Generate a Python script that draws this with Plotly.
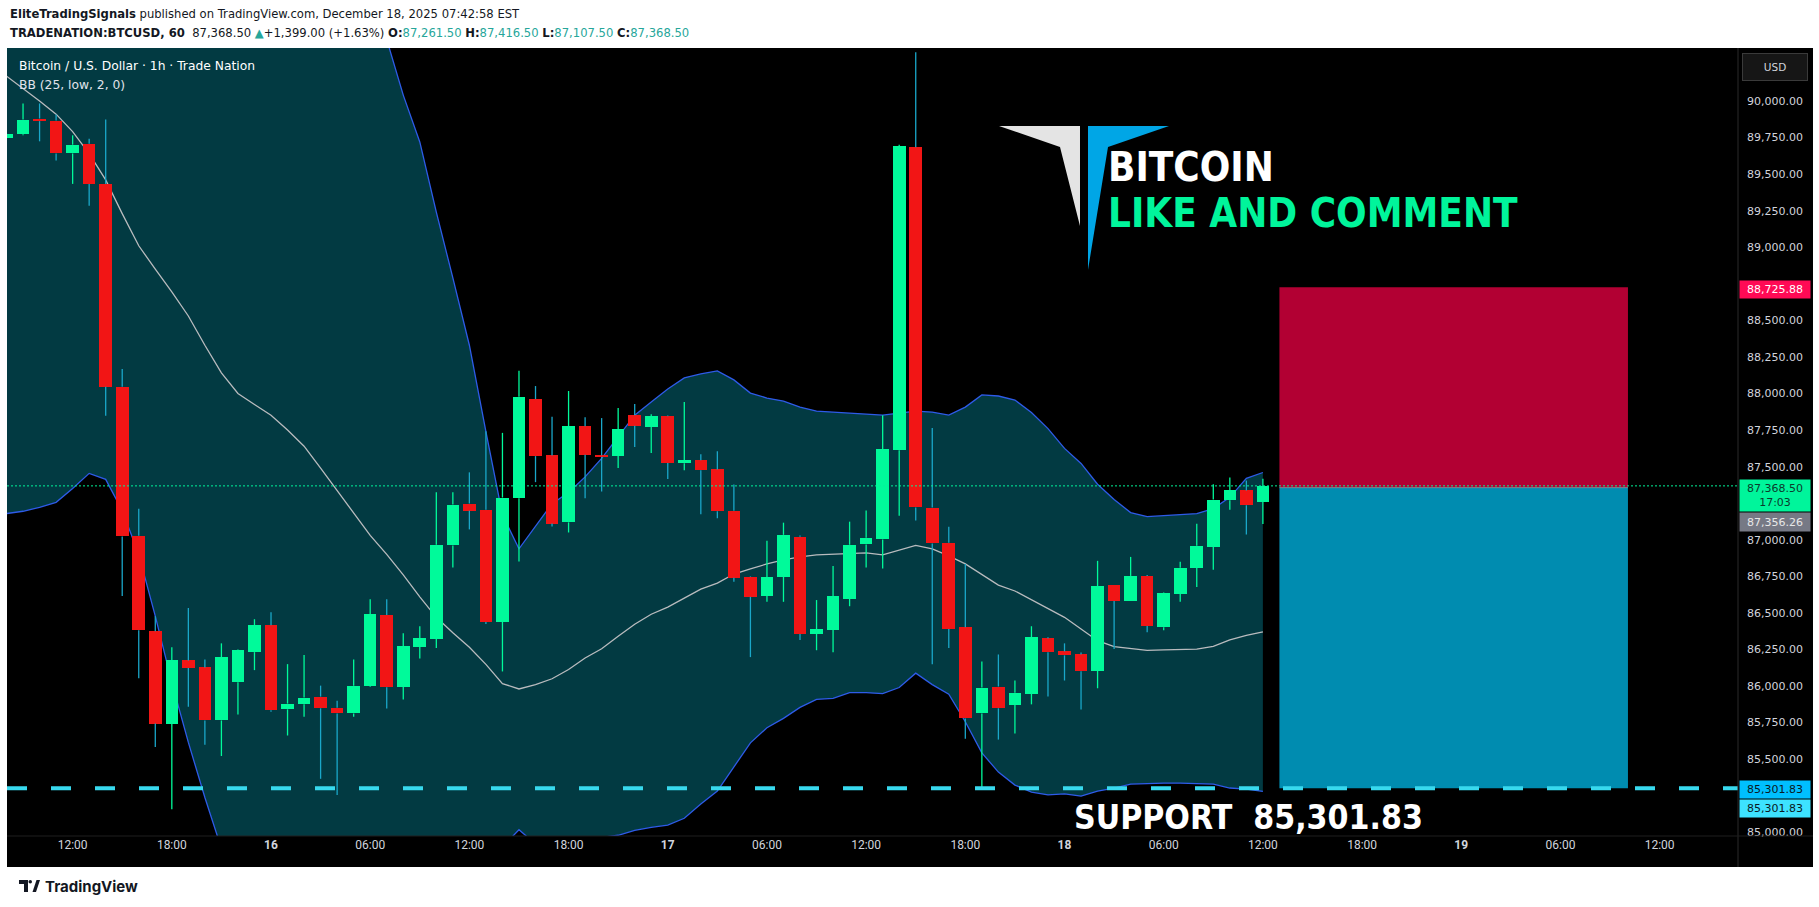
import plotly.graph_objects as go
import pandas as pd

# ---------------- data ----------------
start = pd.Timestamp('2025-12-15 08:00')
times = pd.date_range(start, periods=77, freq='h')

opens = [89750, 89772, 89880, 89866, 89641, 89708, 89433, 88047, 87027, 86375,
         85744, 86175, 86127, 85765, 86026, 86232, 86416, 85841, 85875, 85928,
         85852, 85813, 86003, 86485, 85997, 86267, 86322, 86961, 87248, 87206,
         86438, 87284, 87962, 87577, 87119, 87777, 87577, 87572, 87852, 87772,
         87845, 87524, 87543, 87481, 87199, 86746, 86617, 86748, 87020, 86356,
         86384, 86597, 86968, 87002, 87612, 89683, 87220, 86979, 86402, 85813,
         85997, 85873, 85948, 86326, 86237, 86216, 86106, 86691, 86581, 86753,
         86402, 86631, 86810, 86954, 87270, 87337, 87261.5]
highs = [89780, 89983, 89983, 89907, 89765, 89742, 89873, 88168, 87213, 86478,
         86265, 86533, 86182, 86292, 86250, 86457, 86505, 86150, 86212, 86003,
         85900, 86182, 86594, 86594, 86361, 86409, 87325, 87325, 87461, 87742,
         87731, 88155, 88051, 87841, 88017, 87838, 87832, 87901, 87928, 87859,
         87850, 87942, 87584, 87605, 87378, 86750, 86993, 87117, 87029, 86588,
         86821, 87124, 87201, 87852, 89700, 90333, 87764, 87089, 86835, 86168,
         86216, 86038, 86409, 86333, 86292, 86230, 86856, 86691, 86883, 86760,
         86640, 86849, 87110, 87379, 87426, 87405, 87416.5]
lows = [89745, 89765, 89724, 89593, 89433, 89284, 87848, 86615, 86054, 85584,
        85158, 85859, 85598, 85522, 85806, 86109, 85825, 85662, 85790, 85366,
        85256, 85790, 85995, 85847, 85909, 86189, 86260, 86810, 87071, 86425,
        86100, 86851, 87394, 87091, 87050, 87284, 87330, 87490, 87635, 87593,
        87415, 87476, 87174, 87147, 86713, 86198, 86576, 86576, 86315, 86245,
        86232, 86546, 86810, 86803, 87165, 87131, 86149, 86260, 85639, 85298,
        85634, 85676, 85875, 85928, 86038, 85840, 85985, 86253, 86581, 86368,
        86381, 86576, 86677, 86796, 87206, 87036, 87107.5]
closes = [89775, 89873, 89862, 89641, 89701, 89433, 88047, 87023, 86381, 85744,
          86175, 86123, 85765, 86196, 86244, 86416, 85834, 85880, 85921, 85848,
          85813, 86003, 86491, 85992, 86271, 86326, 86966, 87241, 87199, 86438,
          87289, 87978, 87572, 87111, 87777, 87581, 87566, 87756, 87779, 87845,
          87525, 87543, 87476, 87195, 86741, 86610, 86746, 87034, 86356, 86388,
          86615, 86966, 87014, 87619, 89689, 87221, 86975, 86390, 85779, 85990,
          85848, 85955, 86333, 86232, 86210, 86102, 86684, 86581, 86753, 86411,
          86636, 86808, 86959, 87275, 87337, 87236, 87368.5]

# Bollinger Bands (25, low, 2, 0)
bb_upper = [93200, 93050, 92900, 92750, 92650, 92550, 92500, 92600, 92700, 92800,
            92750, 92650, 92500, 92300, 92050, 91800, 91550, 91300, 91100, 91000,
            90900, 90850, 90800, 90420, 90040, 89720, 89240, 88790, 88330, 87740,
            87170, 86938, 87096, 87247, 87323, 87430, 87557, 87701, 87852, 87942,
            88031, 88107, 88134, 88155, 88093, 88003, 87969, 87948, 87907, 87880,
            87873, 87866, 87860, 87852, 87866, 87880, 87873, 87852, 87907, 87990,
            87983, 87955, 87870, 87760, 87625, 87522, 87380, 87275, 87186, 87158,
            87165, 87172, 87179, 87213, 87290, 87420, 87460]
bb_basis = [90170, 90086, 90000, 89910, 89790, 89640, 89460, 89230, 89010, 88850,
            88695, 88530, 88330, 88141, 88000, 87925, 87852, 87750, 87640, 87490,
            87337, 87190, 87030, 86900, 86760, 86610, 86470, 86365, 86265, 86148,
            86017, 85980, 86010, 86050, 86113, 86192, 86255, 86340, 86423, 86491,
            86540, 86601, 86663, 86704, 86766, 86801, 86835, 86863, 86883, 86897,
            86900, 86904, 86911, 86897, 86931, 86962, 86938, 86890, 86835, 86760,
            86690, 86650, 86590, 86526, 86470, 86390, 86310, 86270, 86258, 86244,
            86248, 86251, 86253, 86272, 86315, 86347, 86370]
bb_lower = [87179, 87195, 87222, 87256, 87350, 87454, 87413, 87200, 86900, 86478,
            86025, 85615, 85238, 84890, 84700, 84550, 84450, 84400, 84350, 84300,
            84300, 84350, 84400, 84450, 84500, 84600, 84700, 84780, 84850, 84920,
            84900, 85018, 84920, 84940, 84958, 84966, 84966, 84980, 85014, 85034,
            85050, 85096, 85194, 85282, 85447, 85612, 85715, 85779, 85854, 85909,
            85916, 85955, 85955, 85948, 85990, 86088, 86010, 85944, 85756, 85543,
            85412, 85323, 85275, 85256, 85263, 85247, 85282, 85302, 85330, 85335,
            85337, 85337, 85335, 85330, 85303, 85296, 85280]

target_price = 88725.88
entry_price = 87356.26
support_price = 85301.83
last_price = closes[-1]
change_abs = 1399.00
change_pct = 1.63
countdown = "17:03"
pos_start = pd.Timestamp('2025-12-18 13:00')
pos_end = pd.Timestamp('2025-12-19 10:05')

xtick_vals = pd.date_range('2025-12-15 12:00', '2025-12-19 12:00', freq='6h')
xtick_text = ['12:00', '18:00', '<b>16</b>', '06:00', '12:00', '18:00', '<b>17</b>', '06:00',
              '12:00', '18:00', '<b>18</b>', '06:00', '12:00', '18:00', '<b>19</b>', '06:00', '12:00']
ytick_vals = [85000, 85500, 85750, 86000, 86250, 86500, 86750, 87000, 87500, 87750,
              88000, 88250, 88500, 89000, 89250, 89500, 89750, 90000]

# ---------------- layout geometry ----------------
W, H = 1819, 907
PL, PR, PT, PB = 7, 1738, 48, 836
x_range = [start + pd.Timedelta(hours=0.03), start + pd.Timedelta(hours=104.74)]
y_range = [84975, 90362]


def px_x(px):
    return (px - PL) / (PR - PL)


def px_y(py):
    return (PB - py) / (PB - PT)


UP = '#00FA9A'
DOWN = '#F21515'
UP_WICK = '#00FA9A'
DOWN_WICK = '#1AA7C9'
BAND = '#2E5BE8'
FILL = '#023A42'
TXT_FONT = 'DejaVu Sans'
BIG_FONT = 'DejaVu Sans Condensed'

fig = go.Figure()

# Bollinger bands on main axes (below candles)
fig.add_trace(go.Scatter(x=times, y=bb_upper, mode='lines', line=dict(color=BAND, width=1.3),
                         hoverinfo='skip'))
fig.add_trace(go.Scatter(x=times, y=bb_lower, mode='lines', line=dict(color=BAND, width=1.3),
                         fill='tonexty', fillcolor=FILL, hoverinfo='skip'))
fig.add_trace(go.Scatter(x=times, y=bb_basis, mode='lines', line=dict(color='#B9BBBE', width=1.3),
                         hoverinfo='skip'))

# candles on overlay axes
wx_up, wy_up, wx_dn, wy_dn = [], [], [], []
for t, o, h, l, c in zip(times, opens, highs, lows, closes):
    top, bot = max(o, c), min(o, c)
    seg_x = [t, t, None, t, t, None]
    seg_y = [h, top, None, bot, l, None]
    if c >= o:
        wx_up += seg_x
        wy_up += seg_y
    else:
        wx_dn += seg_x
        wy_dn += seg_y

fig.add_trace(go.Bar(x=times, y=[c - o for o, c in zip(opens, closes)], base=opens,
                     marker=dict(color=[UP if c >= o else DOWN for o, c in zip(opens, closes)],
                                 line=dict(width=0)),
                     width=0.762 * 3600 * 1000, xaxis='x2', yaxis='y2', hoverinfo='skip'))
fig.add_trace(go.Scatter(x=wx_up, y=wy_up, mode='lines', line=dict(color=UP_WICK, width=1.3),
                         xaxis='x2', yaxis='y2', hoverinfo='skip', connectgaps=False))
fig.add_trace(go.Scatter(x=wx_dn, y=wy_dn, mode='lines', line=dict(color=DOWN_WICK, width=1.3),
                         xaxis='x2', yaxis='y2', hoverinfo='skip', connectgaps=False))

shapes = []
# black widget background
shapes.append(dict(type='rect', xref='paper', yref='paper', x0=px_x(7), x1=px_x(1813),
                   y0=px_y(867), y1=px_y(48), fillcolor='black', line=dict(width=0), layer='below'))
# position tool
shapes.append(dict(type='rect', xref='x', yref='y', x0=pos_start, x1=pos_end, y0=entry_price,
                   y1=target_price, fillcolor='#B20033', line=dict(width=0), layer='below'))
shapes.append(dict(type='rect', xref='x', yref='y', x0=pos_start, x1=pos_end, y0=support_price,
                   y1=entry_price, fillcolor='#008CB0', line=dict(width=0), layer='below'))
shapes.append(dict(type='line', xref='x', yref='y', x0=pos_start, x1=pos_end, y0=entry_price,
                   y1=entry_price, line=dict(color='#7E8A96', width=1), layer='below'))
# current price dotted line
shapes.append(dict(type='line', xref='paper', yref='y', x0=0, x1=1, y0=last_price, y1=last_price,
                   line=dict(color='#00F59B', width=1, dash='2px,2px')))
# support dashed line
shapes.append(dict(type='line', xref='paper', yref='y', x0=0, x1=1, y0=support_price, y1=support_price,
                   line=dict(color='#38D9EE', width=4, dash='20px,24px')))
# separators
shapes.append(dict(type='line', xref='paper', yref='paper', x0=1, x1=1, y0=px_y(867), y1=1,
                   line=dict(color='#2A2A2A', width=1)))
shapes.append(dict(type='line', xref='paper', yref='paper', x0=0, x1=px_x(1813), y0=0, y1=0,
                   line=dict(color='#1E1E1E', width=1)))


def poly(points):
    d = 'M ' + ' L '.join(f'{px_x(a):.5f},{px_y(b):.5f}' for a, b in points) + ' Z'
    return d


# logo wedges
shapes.append(dict(type='path', xref='paper', yref='paper',
                   path=poly([(999, 126), (1080, 126), (1080, 226), (1060, 147)]),
                   fillcolor='#E4E4E4', line=dict(width=0)))
shapes.append(dict(type='path', xref='paper', yref='paper',
                   path=poly([(1088, 126), (1169, 126), (1108, 147), (1088, 270)]),
                   fillcolor='#00A6E6', line=dict(width=0)))
# TradingView footer icon
shapes.append(dict(type='path', xref='paper', yref='paper',
                   path=poly([(19, 880), (28, 880), (28, 892), (24, 892), (24, 884), (19, 884)]),
                   fillcolor='#131722', line=dict(width=0)))
shapes.append(dict(type='circle', xref='paper', yref='paper', x0=px_x(28.5), x1=px_x(32),
                   y0=px_y(883.5), y1=px_y(880), fillcolor='#131722', line=dict(width=0)))
shapes.append(dict(type='path', xref='paper', yref='paper',
                   path=poly([(32.5, 892), (36.5, 880), (40, 880), (36, 892)]),
                   fillcolor='#131722', line=dict(width=0)))

teal = '#26A69A'
ann = []
ann.append(dict(xref='paper', yref='paper', x=px_x(8), y=px_y(14), xanchor='left', yanchor='middle',
                showarrow=False, font=dict(family=TXT_FONT, size=11.6, color='#131722'),
                text='<b>EliteTradingSignals</b> published on TradingView.com, December 18, 2025 07:42:58 EST'))
line2 = (f"<b>TRADENATION:BTCUSD, 60</b>  {last_price:,.2f} <span style='color:{teal}'>▲</span>"
         f"+{change_abs:,.2f} (+{change_pct:.2f}%) "
         f"<b>O:</b><span style='color:{teal}'>{opens[-1]:,.2f}</span> "
         f"<b>H:</b><span style='color:{teal}'>{highs[-1]:,.2f}</span> "
         f"<b>L:</b><span style='color:{teal}'>{lows[-1]:,.2f}</span> "
         f"<b>C:</b><span style='color:{teal}'>{closes[-1]:,.2f}</span>")
ann.append(dict(xref='paper', yref='paper', x=px_x(8), y=px_y(33), xanchor='left', yanchor='middle',
                showarrow=False, font=dict(family=TXT_FONT, size=11.6, color='#131722'), text=line2))
ann.append(dict(xref='paper', yref='paper', x=px_x(17), y=px_y(66), xanchor='left', yanchor='middle',
                showarrow=False, font=dict(family=TXT_FONT, size=12.3, color='#FFFFFF'),
                text='Bitcoin / U.S. Dollar · 1h · Trade Nation'))
ann.append(dict(xref='paper', yref='paper', x=px_x(17), y=px_y(85), xanchor='left', yanchor='middle',
                showarrow=False, font=dict(family=TXT_FONT, size=12.3, color='#E0E3EB'),
                text='BB (25, low, 2, 0)'))
# big texts
ann.append(dict(xref='paper', yref='paper', x=px_x(1106), y=px_y(167), xanchor='left', yanchor='middle',
                showarrow=False, font=dict(family=BIG_FONT, size=40, color='#FFFFFF', weight='bold'),
                text='BITCOIN'))
ann.append(dict(xref='paper', yref='paper', x=px_x(1106), y=px_y(213), xanchor='left', yanchor='middle',
                showarrow=False, font=dict(family=BIG_FONT, size=40, color='#00F59B', weight='bold'),
                text='LIKE AND COMMENT'))
ann.append(dict(xref='paper', yref='paper', x=px_x(1072), y=px_y(817), xanchor='left', yanchor='middle',
                showarrow=False, font=dict(family=BIG_FONT, size=33.5, color='#FFFFFF', weight='bold'),
                text=f'SUPPORT\u00a0\u00a0{support_price:,.2f}'))
# footer
ann.append(dict(xref='paper', yref='paper', x=px_x(43), y=px_y(886), xanchor='left', yanchor='middle',
                showarrow=False, font=dict(family='Inter', size=15, color='#131722', weight=700),
                text='TradingView'))
# price-axis labels
ann.append(dict(xref='paper', yref='paper', x=px_x(1774.5), y=px_y(67), xanchor='center', yanchor='middle',
                showarrow=False, font=dict(family=TXT_FONT, size=10.5, color='#D1D4DC'),
                text='USD', bgcolor='#161616', bordercolor='#3A3A3A', borderwidth=1, width=62, height=24))


def price_label(price, text, bg, fg, shift, h=15):
    return dict(xref='paper', yref='y', x=1.0, y=price, xanchor='left', yanchor='middle', yshift=shift,
                xshift=1, showarrow=False, font=dict(family=TXT_FONT, size=11, color=fg), text=text,
                bgcolor=bg, width=68, height=h, borderpad=1)


ann.append(price_label(target_price, f'{target_price:,.2f}', '#FF0A55', '#FFFFFF', -2))
ann.append(price_label(last_price, f'{last_price:,.2f}<br>{countdown}', '#00F59B', '#0B3B2C', -10, 29))
ann.append(price_label(entry_price, f'{entry_price:,.2f}', '#767985', '#E8E8E8', -34, 16))
ann.append(price_label(support_price, f'{support_price:,.2f}', '#00BFFF', '#0A1A24', -1, 15))
ann.append(price_label(support_price, f'{support_price:,.2f}', '#3DE2FF', '#0A1A24', -20, 15))

fig.update_layout(
    width=W, height=H,
    margin=dict(l=PL, r=W - PR, t=PT, b=H - PB, pad=0),
    paper_bgcolor='white', plot_bgcolor='black',
    showlegend=False, bargap=0,
    shapes=shapes, annotations=ann,
    xaxis=dict(type='date', range=x_range, tickvals=xtick_vals, ticktext=xtick_text,
               showgrid=False, zeroline=False, showline=False, ticks='',
               tickfont=dict(family='Roboto', size=12, color='#D1D4DC'), fixedrange=True),
    yaxis=dict(range=y_range, side='right', tickvals=ytick_vals, tickformat=',.2f',
               showgrid=False, zeroline=False, showline=False, ticks='', ticklabelstandoff=8,
               tickfont=dict(family=TXT_FONT, size=11, color='#D1D4DC'), fixedrange=True),
    xaxis2=dict(type='date', range=x_range, overlaying='x', visible=False, fixedrange=True),
    yaxis2=dict(range=y_range, overlaying='y', visible=False, fixedrange=True),
)

fig.write_html('out.html', config={'displayModeBar': False},
               post_script="document.body.style.margin='0';document.body.style.overflow='hidden';")
